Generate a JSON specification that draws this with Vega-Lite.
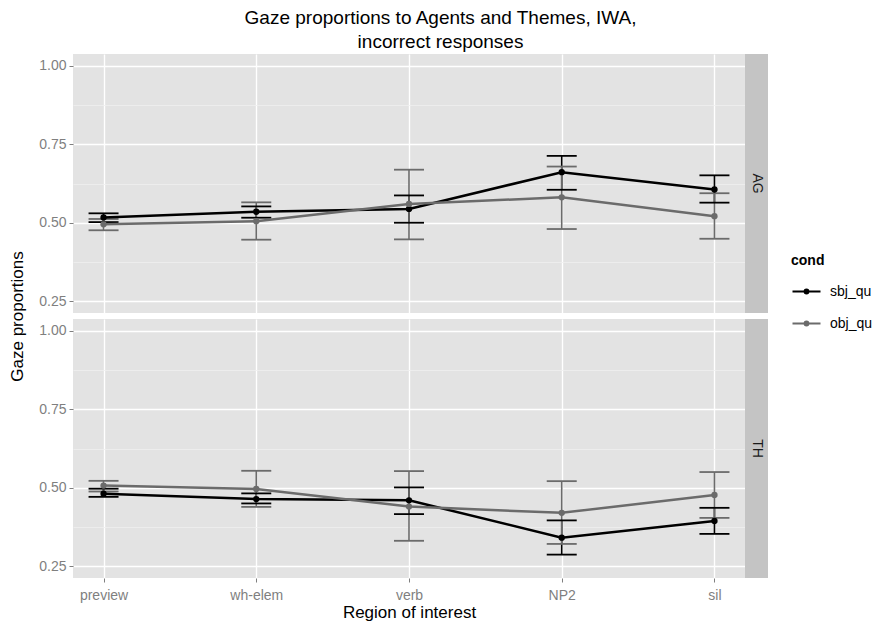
{
  "$schema": "https://vega.github.io/schema/vega-lite/v6.json",
  "padding": {"left": 8, "top": 9, "right": 5, "bottom": 5},
  "background": "#FFFFFF",
  "bounds": "flush",
  "columns": 2,
  "spacing": {"row": 6, "column": 0},
  "title": {
    "text": ["Gaze proportions to Agents and Themes, IWA,", "incorrect responses"],
    "font": "Liberation Sans",
    "fontSize": 19,
    "fontWeight": "normal",
    "color": "#000000",
    "anchor": "middle",
    "lineHeight": 24,
    "offset": 2
  },
  "config": {
    "font": "Liberation Sans"
  },
  "datasets": {
    "gaze": [
      {"panel": "AG", "region": "preview", "cond": "sbj_qu", "mean": 0.517, "lo": 0.502, "hi": 0.530},
      {"panel": "AG", "region": "wh-elem", "cond": "sbj_qu", "mean": 0.535, "lo": 0.516, "hi": 0.552},
      {"panel": "AG", "region": "verb", "cond": "sbj_qu", "mean": 0.544, "lo": 0.500, "hi": 0.587},
      {"panel": "AG", "region": "NP2", "cond": "sbj_qu", "mean": 0.661, "lo": 0.605, "hi": 0.713},
      {"panel": "AG", "region": "sil", "cond": "sbj_qu", "mean": 0.606, "lo": 0.564, "hi": 0.651},
      {"panel": "AG", "region": "preview", "cond": "obj_qu", "mean": 0.495, "lo": 0.476, "hi": 0.512},
      {"panel": "AG", "region": "wh-elem", "cond": "obj_qu", "mean": 0.505, "lo": 0.446, "hi": 0.565},
      {"panel": "AG", "region": "verb", "cond": "obj_qu", "mean": 0.560, "lo": 0.447, "hi": 0.669},
      {"panel": "AG", "region": "NP2", "cond": "obj_qu", "mean": 0.581, "lo": 0.480, "hi": 0.679},
      {"panel": "AG", "region": "sil", "cond": "obj_qu", "mean": 0.521, "lo": 0.449, "hi": 0.594},
      {"panel": "TH", "region": "preview", "cond": "sbj_qu", "mean": 0.481, "lo": 0.471, "hi": 0.497},
      {"panel": "TH", "region": "wh-elem", "cond": "sbj_qu", "mean": 0.464, "lo": 0.450, "hi": 0.482},
      {"panel": "TH", "region": "verb", "cond": "sbj_qu", "mean": 0.460, "lo": 0.416, "hi": 0.501},
      {"panel": "TH", "region": "NP2", "cond": "sbj_qu", "mean": 0.341, "lo": 0.287, "hi": 0.396},
      {"panel": "TH", "region": "sil", "cond": "sbj_qu", "mean": 0.394, "lo": 0.353, "hi": 0.436},
      {"panel": "TH", "region": "preview", "cond": "obj_qu", "mean": 0.507, "lo": 0.488, "hi": 0.522},
      {"panel": "TH", "region": "wh-elem", "cond": "obj_qu", "mean": 0.496, "lo": 0.439, "hi": 0.554},
      {"panel": "TH", "region": "verb", "cond": "obj_qu", "mean": 0.440, "lo": 0.331, "hi": 0.553},
      {"panel": "TH", "region": "NP2", "cond": "obj_qu", "mean": 0.420, "lo": 0.321, "hi": 0.521},
      {"panel": "TH", "region": "sil", "cond": "obj_qu", "mean": 0.477, "lo": 0.404, "hi": 0.550}
    ]
  },
  "concat": [
    {
      "width": 672,
      "height": 259,
      "view": {"fill": "#E3E3E3", "stroke": null},
      "data": {"name": "gaze"},
      "transform": [{"filter": "datum.panel === 'AG'"}],
      "encoding": {
        "x": {
          "field": "region", "type": "nominal",
          "sort": ["preview", "wh-elem", "verb", "NP2", "sil"],
          "scale": {"type": "point", "padding": 0.2},
          "axis": {"title": null, "labels": false, "ticks": false, "domain": false, "grid": true, "gridColor": "#FFFFFF", "gridWidth": 1.4}
        },
        "y": {
          "field": "mean", "type": "quantitative",
          "scale": {"domain": [0.2125, 1.0375], "nice": false, "zero": false},
          "axis": {
            "title": "Gaze proportions",
            "titleFontSize": 17, "titleFontWeight": "normal", "titleColor": "#000000",
            "titleX": -47, "titleY": 262,
            "values": [0.25, 0.375, 0.5, 0.625, 0.75, 0.875, 1.0],
            "labelExpr": "(datum.value * 8) % 2 == 0 ? format(datum.value, '.2f') : ''",
            "labelFontSize": 14, "labelColor": "#7F7F7F", "labelPadding": 3,
            "domain": false,
            "tickColor": "#7F7F7F", "tickSize": 4,
            "tickOpacity": {"condition": {"test": "(datum.value * 8) % 2 == 1", "value": 0}, "value": 1},
            "gridColor": {"condition": {"test": "(datum.value * 8) % 2 == 1", "value": "#F0F0F0"}, "value": "#FFFFFF"},
            "gridWidth": {"condition": {"test": "(datum.value * 8) % 2 == 1", "value": 0.8}, "value": 1.6}
          }
        },
        "color": {
          "field": "cond", "type": "nominal",
          "scale": {"domain": ["sbj_qu", "obj_qu"], "range": ["#000000", "#6B6B6B"]},
          "legend": {
            "title": "cond", "titleFontSize": 14, "titleFontWeight": "bold", "titleColor": "#000000",
            "titlePadding": 8,
            "labelFontSize": 14, "labelColor": "#000000", "labelOffset": 8,
            "symbolType": "M-1,0H1M-0.13,0A0.13,0.13 0 1,0 0.13,0A0.13,0.13 0 1,0 -0.13,0Z",
            "symbolSize": 784, "symbolStrokeWidth": 2.2,
            "rowPadding": 9,
            "orient": "none", "legendX": 718, "legendY": 200
          }
        }
      },
      "layer": [
        {"mark": {"type": "rule", "strokeWidth": 1.6}, "encoding": {"y": {"field": "lo", "type": "quantitative"}, "y2": {"field": "hi"}}},
        {"mark": {"type": "tick", "thickness": 1.8, "size": 30, "opacity": 1}, "encoding": {"y": {"field": "lo", "type": "quantitative"}}},
        {"mark": {"type": "tick", "thickness": 1.8, "size": 30, "opacity": 1}, "encoding": {"y": {"field": "hi", "type": "quantitative"}}},
        {"mark": {"type": "line", "strokeWidth": 2.5}, "encoding": {"detail": {"field": "cond"}}},
        {"mark": {"type": "point", "filled": true, "size": 40, "opacity": 1}}
      ]
    },
    {
      "width": 23,
      "height": 259,
      "view": {"fill": "#C4C4C4", "stroke": null},
      "data": {"values": [{"strip": "AG"}]},
      "mark": {"type": "text", "angle": 90, "fontSize": 14, "color": "#1A1A1A", "align": "center", "baseline": "middle"},
      "encoding": {"text": {"field": "strip"}}
    },
    {
      "width": 672,
      "height": 259,
      "view": {"fill": "#E3E3E3", "stroke": null},
      "data": {"name": "gaze"},
      "transform": [{"filter": "datum.panel === 'TH'"}],
      "encoding": {
        "x": {
          "field": "region", "type": "nominal",
          "sort": ["preview", "wh-elem", "verb", "NP2", "sil"],
          "scale": {"type": "point", "padding": 0.2},
          "axis": {"title": "Region of interest", "titleFontSize": 17, "titleFontWeight": "normal", "titleColor": "#000000", "titlePadding": 2,
                   "labelAngle": 0, "labelFontSize": 14, "labelColor": "#7F7F7F", "labelPadding": 6,
                   "domain": false, "tickColor": "#7F7F7F", "tickSize": 4,
                   "grid": true, "gridColor": "#FFFFFF", "gridWidth": 1.4}
        },
        "y": {
          "field": "mean", "type": "quantitative",
          "scale": {"domain": [0.2125, 1.0375], "nice": false, "zero": false},
          "axis": {
            "title": null,
            "values": [0.25, 0.375, 0.5, 0.625, 0.75, 0.875, 1.0],
            "labelExpr": "(datum.value * 8) % 2 == 0 ? format(datum.value, '.2f') : ''",
            "labelFontSize": 14, "labelColor": "#7F7F7F", "labelPadding": 3,
            "domain": false,
            "tickColor": "#7F7F7F", "tickSize": 4,
            "tickOpacity": {"condition": {"test": "(datum.value * 8) % 2 == 1", "value": 0}, "value": 1},
            "gridColor": {"condition": {"test": "(datum.value * 8) % 2 == 1", "value": "#F0F0F0"}, "value": "#FFFFFF"},
            "gridWidth": {"condition": {"test": "(datum.value * 8) % 2 == 1", "value": 0.8}, "value": 1.6}
          }
        },
        "color": {
          "field": "cond", "type": "nominal",
          "scale": {"domain": ["sbj_qu", "obj_qu"], "range": ["#000000", "#6B6B6B"]}
        }
      },
      "layer": [
        {"mark": {"type": "rule", "strokeWidth": 1.6}, "encoding": {"y": {"field": "lo", "type": "quantitative"}, "y2": {"field": "hi"}}},
        {"mark": {"type": "tick", "thickness": 1.8, "size": 30, "opacity": 1}, "encoding": {"y": {"field": "lo", "type": "quantitative"}}},
        {"mark": {"type": "tick", "thickness": 1.8, "size": 30, "opacity": 1}, "encoding": {"y": {"field": "hi", "type": "quantitative"}}},
        {"mark": {"type": "line", "strokeWidth": 2.5}, "encoding": {"detail": {"field": "cond"}}},
        {"mark": {"type": "point", "filled": true, "size": 40, "opacity": 1}}
      ]
    },
    {
      "width": 23,
      "height": 259,
      "view": {"fill": "#C4C4C4", "stroke": null},
      "data": {"values": [{"strip": "TH"}]},
      "mark": {"type": "text", "angle": 90, "fontSize": 14, "color": "#1A1A1A", "align": "center", "baseline": "middle"},
      "encoding": {"text": {"field": "strip"}}
    }
  ]
}
